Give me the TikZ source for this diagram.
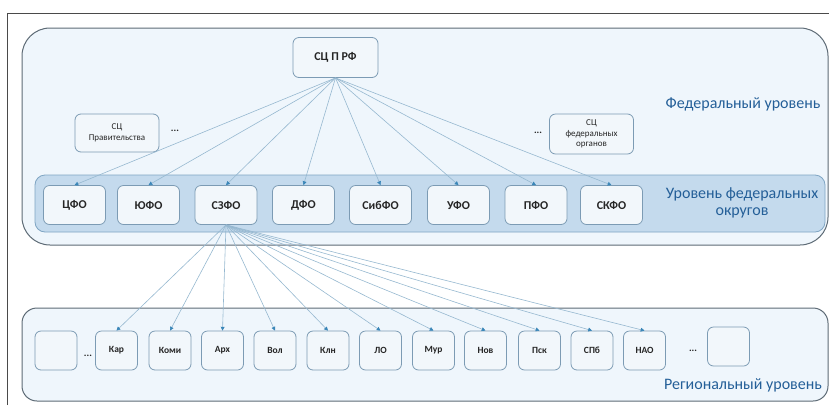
\documentclass[tikz,border=0pt]{standalone}
\usepackage{fontspec}
\setmainfont{Carlito}
\usetikzlibrary{arrows.meta}
\definecolor{framec}{HTML}{4A4A4A}
\definecolor{outerc}{HTML}{5E6B76}
\definecolor{outerfill}{HTML}{EFF6FC}
\definecolor{bandc}{HTML}{7FA5C3}
\definecolor{bandfill}{HTML}{C4DAED}
\definecolor{boxc}{HTML}{7C9BB4}
\definecolor{boxfill}{HTML}{F2F7FB}
\definecolor{txt}{HTML}{262626}
\definecolor{lblc}{HTML}{245F98}
\definecolor{linec}{HTML}{96B8D0}
\definecolor{tipc}{HTML}{3A86B8}
\begin{document}
\begin{tikzpicture}[x=1pt,y=-1pt,
  container/.style={draw=outerc, fill=outerfill, line width=1pt, inner sep=0pt},
  band/.style={draw=bandc, fill=bandfill, line width=0.8pt, rounded corners=10pt, inner sep=0pt},
  dbox/.style={draw=boxc, fill=boxfill, line width=0.8pt, rounded corners=6pt, minimum width=62pt, minimum height=39pt, inner sep=1pt, text=txt, font=\bfseries\fontsize{12}{12}\selectfont},
  sbox/.style={draw=boxc, fill=boxfill, line width=0.8pt, rounded corners=6pt, minimum width=84pt, minimum height=38pt, inner sep=1pt, align=center, text=txt, font=\fontsize{9}{10.5}\selectfont},
  rbox/.style={draw=boxc, fill=boxfill, line width=0.8pt, rounded corners=6pt, minimum width=42pt, minimum height=39pt, inner sep=1pt, text=txt, font=\bfseries\fontsize{9.5}{9.5}\selectfont},
  dots/.style={text=txt, font=\bfseries\fontsize{10}{10}\selectfont, inner sep=0pt},
  lbl/.style={text=lblc, align=center, font=\fontsize{16}{17}\selectfont, inner sep=0pt},
  conn/.style={draw=linec, line width=0.6pt, -{Triangle[width=3.8pt,length=3.8pt,color=tipc]}}
]
\useasboundingbox (0,0) rectangle (829,405);
% frame
\coordinate (fbl) at (7,405);
\coordinate (ftl) at (7,13);
\coordinate (ftr) at (829,13);
\draw[framec, line width=1pt] (fbl) -- (ftl) -- (ftr);
% containers
\node[container, rounded corners=28pt, minimum width=806pt, minimum height=217pt] (fed) at (425,136.5) {};
\node[container, rounded corners=15pt, minimum width=806pt, minimum height=93pt] (reg) at (425,354.5) {};
\node[band, minimum width=790pt, minimum height=57pt] (fband) at (430,203.5) {};
% top
\node[dbox, minimum width=85pt, minimum height=40pt] (hub) at (335.5,57.5) {СЦ П РФ};
\node[sbox] (gov) at (117,133) {СЦ\\Правительства};
\node[dots] (d1) at (175,131) {...};
\node[sbox, minimum height=40pt] (fo) at (591.5,134) {СЦ\\федеральных\\органов};
\node[dots] (d2) at (538,133) {...};
\node[lbl] (lfed) at (743,104) {Федеральный уровень};
% districts
\node[dbox] (cfo) at (74.5,205) {ЦФО};
\node[dbox] (yufo) at (148.5,205) {ЮФО};
\node[dbox] (szfo) at (226,205) {СЗФО};
\node[dbox] (dfo) at (303.5,205) {ДФО};
\node[dbox] (sfo) at (380.5,205) {СибФО};
\node[dbox] (ufo) at (458.5,205) {УФО};
\node[dbox] (pfo) at (536,205) {ПФО};
\node[dbox] (skfo) at (611.5,205) {СКФО};
\node[lbl] (ldist) at (742,203) {Уровень федеральных\\округов};
% regions
\node[rbox] (e1) at (56,350.5) {};
\node[dots] (d3) at (88,356) {...};
\node[rbox] (kar) at (116.5,350.5) {Кар};
\node[rbox] (komi) at (170,350.5) {Коми};
\node[rbox] (arh) at (222.5,350.5) {Арх};
\node[rbox] (vol) at (275,350.5) {Вол};
\node[rbox] (kln) at (328,350.5) {Клн};
\node[rbox] (lo) at (380.5,350.5) {ЛО};
\node[rbox] (mur) at (433.5,350.5) {Мур};
\node[rbox] (nov) at (485.5,350.5) {Нов};
\node[rbox] (psk) at (539.5,350.5) {Пск};
\node[rbox] (spb) at (592,350.5) {СПб};
\node[rbox] (nao) at (644.5,350.5) {НАО};
\node[dots] (d4) at (693,351) {...};
\node[rbox] (e2) at (728.5,346.5) {};
\node[lbl] (lreg) at (743,385) {Региональный уровень};
% connectors
\foreach \n in {cfo,yufo,szfo,dfo,sfo,ufo,pfo,skfo}
  \draw[conn] (hub.south) -- (\n.north);
\foreach \n in {kar,komi,arh,vol,kln,lo,mur,nov,psk,spb,nao}
  \draw[conn] (szfo.south) -- (\n.north);
\end{tikzpicture}
\end{document}
